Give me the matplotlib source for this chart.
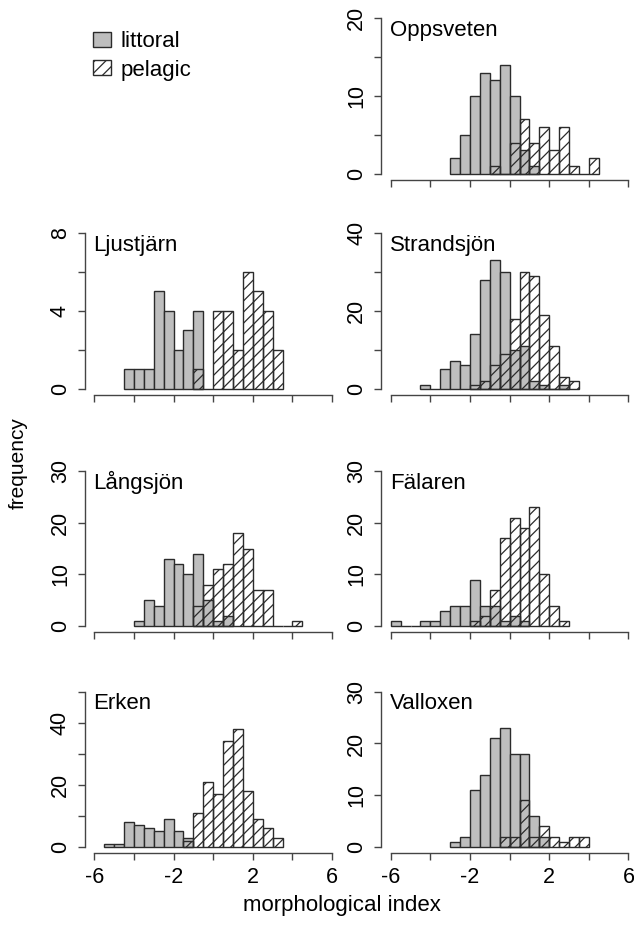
import matplotlib
matplotlib.use("Agg")
import matplotlib.pyplot as plt
from matplotlib.patches import Patch

plt.rcParams["font.family"] = ["Liberation Sans", "DejaVu Sans"]
plt.rcParams["hatch.linewidth"] = 0.9

# bin width of all histograms
BW = 0.5

# counts per 0.5-wide bin; *_start is the left edge of the first bin
opp_lit_start = -3.0
opp_lit = [2, 5, 10, 13, 12, 14, 10, 3, 1]
opp_pel_start = -1.0
opp_pel = [1, 0, 4, 7, 4, 6, 3, 6, 1, 0, 2]

lju_lit_start = -4.5
lju_lit = [1, 1, 1, 5, 4, 2, 3, 4]
lju_pel_start = -1.0
lju_pel = [1, 0, 4, 4, 2, 6, 5, 4, 2]

str_lit_start = -4.5
str_lit = [1, 0, 5, 7, 6, 14, 28, 33, 30, 10, 11, 2, 1, 0, 1]
str_pel_start = -2.0
str_pel = [1, 2, 6, 9, 18, 30, 29, 19, 11, 3, 2]

lan_lit_start = -4.0
lan_lit = [1, 5, 4, 13, 12, 10, 14, 5, 1, 2]
lan_pel_start = -1.0
lan_pel = [4, 8, 11, 12, 18, 15, 7, 7, 0, 0, 1]

fal_lit_start = -6.0
fal_lit = [1, 0, 0, 1, 1, 3, 4, 4, 9, 4, 4, 1, 2, 1]
fal_pel_start = -2.0
fal_pel = [1, 2, 7, 17, 21, 19, 23, 10, 4, 1]

erk_lit_start = -5.5
erk_lit = [1, 1, 8, 7, 6, 5, 9, 5, 3]
erk_pel_start = -1.5
erk_pel = [2, 11, 21, 17, 34, 38, 18, 9, 6, 3]

val_lit_start = -3.0
val_lit = [1, 2, 11, 14, 21, 23, 18, 18, 6, 2]
val_pel_start = -0.5
val_pel = [2, 2, 9, 2, 4, 2, 1, 2, 2]

x_ticks = [-6, -4, -2, 0, 2, 4, 6]
x_labels = ["-6", "", "-2", "", "2", "", "6"]

# name, littoral, pelagic, y max, y tick step, labelled y ticks
panels = {
    "Oppsveten": (opp_lit_start, opp_lit, opp_pel_start, opp_pel, 20, 5, [0, 10, 20]),
    "Ljustjärn": (lju_lit_start, lju_lit, lju_pel_start, lju_pel, 8, 2, [0, 4, 8]),
    "Strandsjön": (str_lit_start, str_lit, str_pel_start, str_pel, 40, 10, [0, 20, 40]),
    "Långsjön": (lan_lit_start, lan_lit, lan_pel_start, lan_pel, 30, 10, [0, 10, 20, 30]),
    "Fälaren": (fal_lit_start, fal_lit, fal_pel_start, fal_pel, 30, 10, [0, 10, 20, 30]),
    "Erken": (erk_lit_start, erk_lit, erk_pel_start, erk_pel, 50, 10, [0, 20, 40]),
    "Valloxen": (val_lit_start, val_lit, val_pel_start, val_pel, 30, 10, [0, 10, 20, 30]),
}

# (left, bottom, width, height) in figure fractions
left_col, right_col, col_w = 0.1338, 0.6013, 0.405
row_bottoms = [0.8058, 0.5737, 0.3170, 0.0786]
row_h = 0.1811
layout = {
    "Oppsveten": (right_col, 0),
    "Ljustjärn": (left_col, 1),
    "Strandsjön": (right_col, 1),
    "Långsjön": (left_col, 2),
    "Fälaren": (right_col, 2),
    "Erken": (left_col, 3),
    "Valloxen": (right_col, 3),
}

lit_color = "#bebebe"
edge = "#2b2b2b"
axis_color = "#444444"

fig = plt.figure(figsize=(6.34, 9.26), dpi=100)

for name, (ls, lit, ps, pel, ymax, ystep, ylab) in panels.items():
    x0, row = layout[name]
    ax = fig.add_axes([x0, row_bottoms[row], col_w, row_h])
    lit_edges = [ls + i * BW for i in range(len(lit))]
    pel_edges = [ps + i * BW for i in range(len(pel))]
    ax.bar(lit_edges, lit, width=BW, align="edge", color=lit_color,
           edgecolor=edge, linewidth=1.0)
    ax.bar(pel_edges, pel, width=BW, align="edge", fill=False, hatch="///",
           edgecolor=edge, linewidth=1.0)

    ax.set_xlim(-6.48, 6.48)
    ax.set_ylim(-0.04 * ymax, 1.04 * ymax)
    for s in ("top", "right"):
        ax.spines[s].set_visible(False)
    ax.spines["left"].set_bounds(0, ymax)
    ax.spines["bottom"].set_bounds(-6, 6)
    for s in ("left", "bottom"):
        ax.spines[s].set_color(axis_color)
        ax.spines[s].set_linewidth(1.0)

    ax.set_xticks(x_ticks)
    ax.set_xticklabels(x_labels if row == 3 else [""] * len(x_ticks))
    yt = list(range(0, ymax + 1, ystep))
    ax.set_yticks(yt)
    ax.set_yticklabels([str(v) if v in ylab else "" for v in yt],
                       rotation=90, va="center")
    ax.tick_params(length=5, width=1.0, color=axis_color, pad=5,
                   labelsize=15.5)
    ax.patch.set_visible(False)

    ax.text(0.033, 0.858, name, transform=ax.transAxes, fontsize=16,
            ha="left", va="baseline")

handles = [
    Patch(facecolor=lit_color, edgecolor=edge, linewidth=1.0),
    Patch(fill=False, hatch="///", edgecolor=edge, linewidth=1.0),
]
fig.legend(handles, ["littoral", "pelagic"], loc="upper left",
           bbox_to_anchor=(93 / 634, 1 - 31 / 926), frameon=False,
           fontsize=16, handlelength=0.8, handleheight=0.68,
           handletextpad=0.45, labelspacing=0.34, borderpad=0,
           borderaxespad=0)

fig.text(0.028, 0.5, "frequency", rotation=90, ha="center", va="center",
         fontsize=15)
fig.text(0.54, 0.022, "morphological index", ha="center", va="center",
         fontsize=16)

fig.savefig("out.png", dpi=100)
